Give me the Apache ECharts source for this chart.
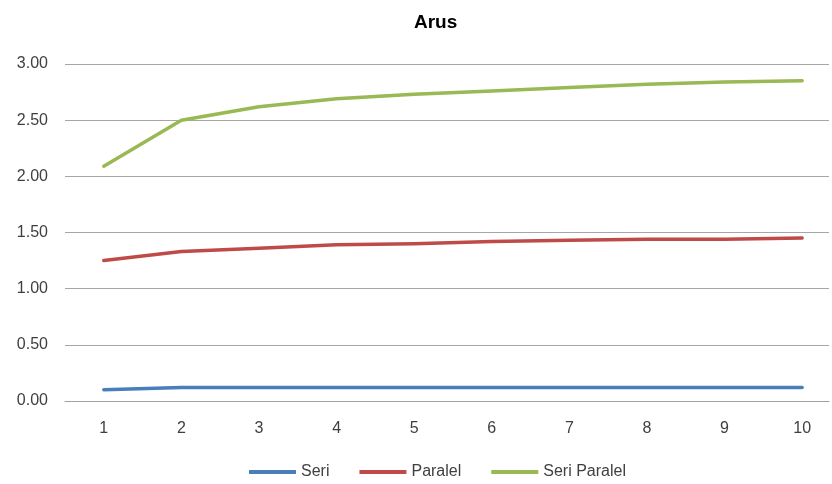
<!DOCTYPE html>
<html><head><meta charset="utf-8">
<script src="https://cdn.jsdelivr.net/npm/echarts@6/dist/echarts.min.js"></script>
<style>html,body{margin:0;padding:0;background:#fff}#c{width:832px;height:484px}</style>
</head><body><div id="c"></div>
<script>
const categories = [1,2,3,4,5,6,7,8,9,10];
const seri = [0.10,0.12,0.12,0.12,0.12,0.12,0.12,0.12,0.12,0.12];
const paralel = [1.25,1.33,1.36,1.39,1.40,1.42,1.43,1.44,1.44,1.45];
const seriParalel = [2.09,2.50,2.62,2.69,2.73,2.76,2.79,2.82,2.84,2.85];
const seriesNames = ['Seri','Paralel','Seri Paralel'];
const colors = ['#4a7ebb','#be4b48','#98b954'];

const chart = echarts.init(document.getElementById('c'));
const mk = (name, vals, color) => ({
  name, type:'line', data: categories.map((c,i)=>[c, vals[i]]), symbol:'none', smooth:false,
  lineStyle:{width:3.5, color, cap:'round', join:'round'}, itemStyle:{color}
});
chart.setOption({
  animation:false,
  title:{text:'Arus', left:409, top:8,
    textStyle:{fontFamily:'Liberation Sans', fontSize:19, fontWeight:'bold', color:'#000'}},
  grid:{left:65, right:0, top:64, height:337},
  xAxis:{type:'value', min:0.5, max:10.346, interval:0.5,
    axisLine:{show:true, lineStyle:{color:'#a0a0a0', width:1}},
    axisTick:{show:false}, splitLine:{show:false},
    axisLabel:{color:'#404040', fontFamily:'Liberation Sans', fontSize:16, margin:20,
      showMinLabel:true, showMaxLabel:true,
      formatter:v=> (Math.abs(v-Math.round(v))<1e-6) ? String(Math.round(v)) : ''}},
  yAxis:{type:'value', min:0, max:3, interval:0.5,
    axisLine:{show:false}, axisTick:{show:false},
    splitLine:{lineStyle:{color:'#a6a6a6', width:1}},
    axisLabel:{color:'#404040', fontFamily:'Liberation Sans', fontSize:16, margin:17,
      formatter:v=>v.toFixed(2)}},
  legend:{top:459, left:244, icon:'rect', itemWidth:47, itemHeight:4, itemGap:30,
    textStyle:{color:'#404040', fontFamily:'Liberation Sans', fontSize:16},
    data:seriesNames},
  series:[mk(seriesNames[0], seri, colors[0]), mk(seriesNames[1], paralel, colors[1]), mk(seriesNames[2], seriParalel, colors[2])]
});
</script></body></html>
